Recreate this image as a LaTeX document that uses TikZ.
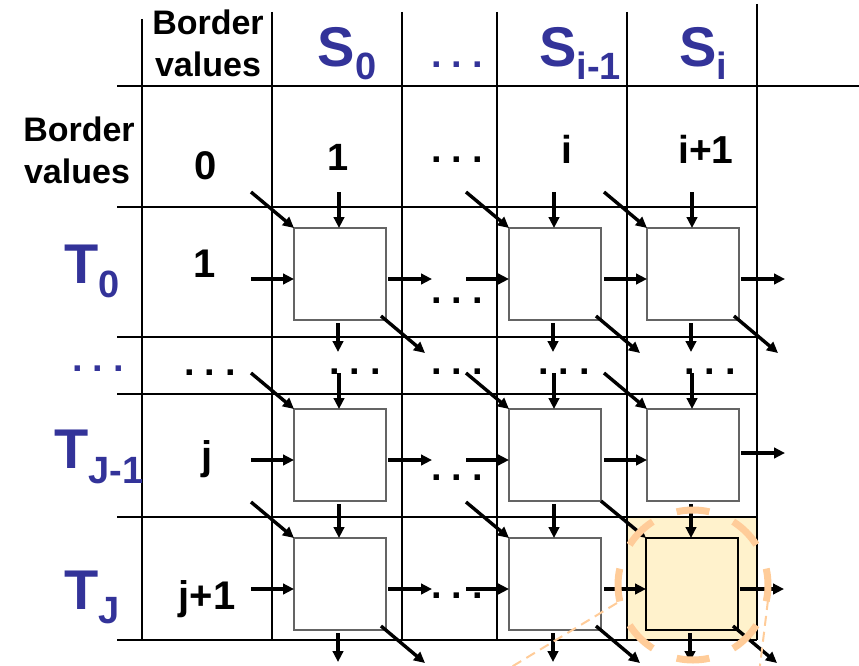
\documentclass[tikz,border=0pt]{standalone}
\usepackage{fontspec}
\setmainfont{Liberation Sans}
\usetikzlibrary{arrows.meta,calc}
\definecolor{tblue}{RGB}{51,51,153}
\definecolor{hlfill}{RGB}{255,242,204}
\definecolor{peach}{RGB}{255,204,153}
\definecolor{boxgray}{RGB}{100,100,100}
\newcommand\tdots{.\kern9.8pt.\kern9.8pt.}
\begin{document}
\begin{tikzpicture}[x=1pt,y=-1pt,
  gridln/.style={line width=1.2pt},
  gridthk/.style={line width=2.1pt},
  cellbox/.style={draw=boxgray, line width=1.3pt, fill=white, minimum width=92pt, minimum height=92pt, inner sep=0pt, outer sep=0pt},
  hlbox/.style={cellbox, draw=black, fill=hlfill, line width=2.4pt},
  arr/.style={line width=3.4pt, -{Triangle[length=11pt,width=10.5pt]}},
  txt/.style={anchor=base, inner sep=0pt, outer sep=0pt, font=\bfseries\fontsize{#1}{#1}\selectfont},
  blue/.style={text=tblue},
  circ/.style={peach, line width=7pt, dash pattern=on 33pt off 25.9pt, dash phase=16.5pt},
  zoomln/.style={peach, line width=2pt, dash pattern=on 10pt off 6pt}
]
\useasboundingbox (0,0) rectangle (859,666);
% highlight cell
\fill[hlfill] (627,517) rectangle (757,640);
% grid
\draw[gridln] (117,86) -- (859,86);
\foreach \yy in {207,337,394,517,640} \draw[gridln] (117,\yy) -- (757,\yy);
\draw[gridthk] (142,19) -- (142,640);
\draw[gridthk] (272,12) -- (272,640);
\foreach \xx in {402,497,627} \draw[gridln] (\xx,12) -- (\xx,640);
\draw[gridln] (757,4) -- (757,640);
% boxes
\node[cellbox] (b00) at (340,274) {};
\node[cellbox] (b01) at (555,274) {};
\node[cellbox] (b02) at (693,274) {};
\node[cellbox] (b10) at (340,455) {};
\node[cellbox] (b11) at (555,455) {};
\node[cellbox] (b12) at (693,455) {};
\node[cellbox] (b20) at (340,584) {};
\node[cellbox] (b21) at (555,584) {};
\node[hlbox] (b22) at (692,584) {};
% diagonal inputs
\foreach \b in {b00,b01,b02,b10,b11,b12,b20,b21}
  \draw[arr] ($(\b.north west)+(-43,-36)$) -- (\b.north west);
\draw[arr] (b11.south east) -- (b22.north west);
% vertical inputs
\foreach \b in {b00,b01,b02,b10,b11,b12}
  \draw[arr] ($(\b.north)+(-1,-36)$) -- ($(\b.north)+(-1,0)$);
\draw[arr] ($(b10.south)+(-1,3)$) -- ($(b20.north)+(-1,0)$);
\draw[arr] ($(b11.south)+(-1,3)$) -- ($(b21.north)+(-1,0)$);
\draw[arr] ($(b12.south)+(-2,3)$) -- ($(b12.south)+(-2,37)$);
% horizontal inputs
\foreach \b in {b00,b01,b10,b11,b20,b21}
  \draw[arr] ($(\b.west)+(-43,5)$) -- ($(\b.west)+(0,5)$);
\draw[arr] ($(b01.east)+(3,5)$) -- ($(b02.west)+(0,5)$);
\draw[arr] ($(b11.east)+(3,5)$) -- ($(b12.west)+(0,5)$);
\draw[arr] ($(b21.east)+(3,5)$) -- ($(b22.west)+(0,5)$);
% horizontal outputs
\foreach \b in {b00,b10,b20,b02,b22}
  \draw[arr] ($(\b.east)+(2,5)$) -- ($(\b.east)+(46,5)$);
\draw[arr] ($(b12.east)+(2,-2)$) -- ($(b12.east)+(46,-2)$);
% vertical outputs
\foreach \b in {b00,b01,b02,b20,b21,b22}
  \draw[arr] ($(\b.south)+(-2,3)$) -- ($(\b.south)+(-2,32)$);
% diagonal outputs
\foreach \b in {b00,b01,b02,b20,b21,b22}
  \draw[arr] ($(\b.south east)+(-5,-4)$) -- ($(\b.south east)+(39,33)$);
% header texts
\node[txt=34] (hb1) at (208,35) {Border};
\node[txt=34] (hb2) at (208,77) {values};
\node[txt=34] (lb1) at (79,142) {Border};
\node[txt=34] (lb2) at (77,183) {values};
\node[txt=56,blue] (s0) at (347,67) {S\raisebox{-13pt}{\fontsize{38}{38}\selectfont 0}};
\node[txt=38,blue] (hdots) at (457,68) {\tdots};
\node[txt=56,blue] (sim) at (580,67) {S\raisebox{-13pt}{\fontsize{38}{38}\selectfont i-1}};
\node[txt=56,blue] (si) at (703,67) {S\raisebox{-13pt}{\fontsize{38}{38}\selectfont i}};
\node[txt=56,blue] (t0) at (92,283) {T\raisebox{-14pt}{\fontsize{38}{38}\selectfont 0}};
\node[txt=38,blue] (ldots) at (98,371) {\tdots};
\node[txt=56,blue] (tjm) at (99,468) {T\raisebox{-15pt}{\fontsize{38}{38}\selectfont J-1}};
\node[txt=56,blue] (tj) at (92,609) {T\raisebox{-14pt}{\fontsize{38}{38}\selectfont J}};
% border values
\node[txt=40] (n0) at (206,179) {0};
\node[txt=38] (n1) at (338,170) {1};
\node[txt=38] (bdots) at (457,162) {\tdots};
\node[txt=39] (ni) at (567,163) {i};
\node[txt=39] (nip) at (706,163) {i+1};
\node[txt=40] (r1) at (205,277) {1};
\node[txt=40] (rj) at (207,469) {j};
\node[txt=40] (rj1) at (207,609) {j+1};
% dots
\node[txt=38] (d1) at (210,375) {\tdots};
\node[txt=38] (d2) at (355,374) {\tdots};
\node[txt=38] (d3) at (457,374) {\tdots};
\node[txt=38] (d4) at (564,374) {\tdots};
\node[txt=38] (d5) at (710,374) {\tdots};
\node[txt=38] (d6) at (457,303) {\tdots};
\node[txt=38] (d7) at (457,480) {\tdots};
\node[txt=38] (d8) at (457,598) {\tdots};
% zoom marker
\coordinate (cc) at (693,585);
\draw[circ] (cc) circle[radius=75];
\coordinate (zl1) at (617,603);
\coordinate (zl2) at (480,686);
\coordinate (zr1) at (768,600);
\coordinate (zr2) at (757.5,686);
\draw[zoomln] (zl1) -- (zl2);
\draw[zoomln] (zr1) -- (zr2);
\end{tikzpicture}
\end{document}
